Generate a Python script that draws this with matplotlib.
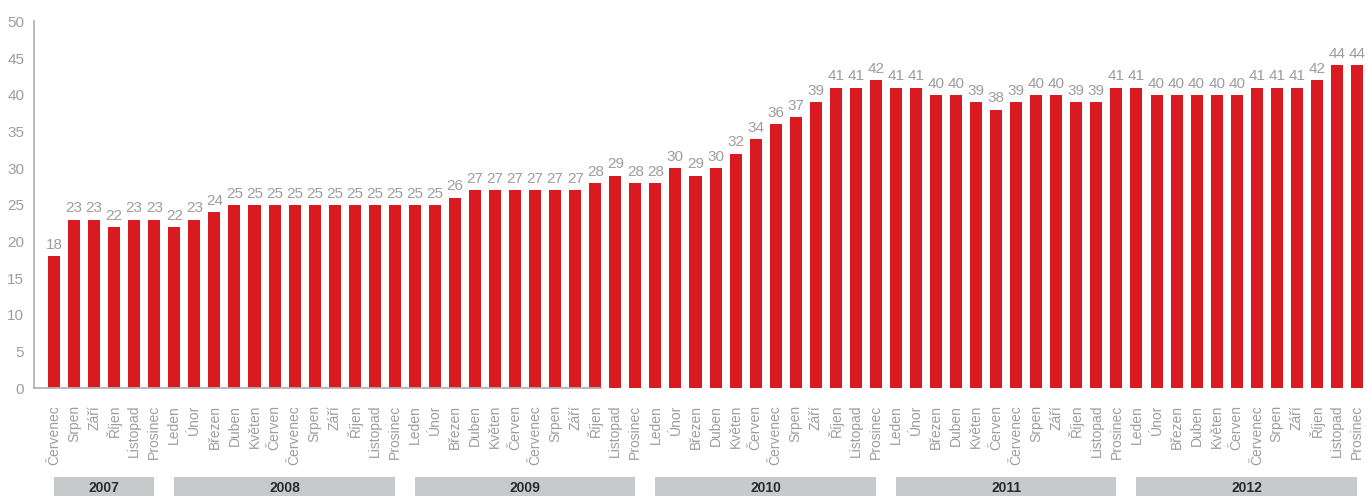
import matplotlib
matplotlib.use("Agg")
import matplotlib.pyplot as plt
from matplotlib.patches import Rectangle
from matplotlib.transforms import blended_transform_factory

# ---- data ----
month_names = ["Leden", "Únor", "Březen", "Duben", "Květen", "Červen",
               "Červenec", "Srpen", "Září", "Říjen", "Listopad", "Prosinec"]
years = ["2007", "2008", "2009", "2010", "2011", "2012"]
values_2007 = [18, 23, 23, 22, 23, 23]                      # Červenec–Prosinec
values_2008 = [22, 23, 24, 25, 25, 25, 25, 25, 25, 25, 25, 25]
values_2009 = [25, 25, 26, 27, 27, 27, 27, 27, 27, 28, 29, 28]
values_2010 = [28, 30, 29, 30, 32, 34, 36, 37, 39, 41, 41, 42]
values_2011 = [41, 41, 40, 40, 39, 38, 39, 40, 40, 39, 39, 41]
values_2012 = [41, 40, 40, 40, 40, 40, 41, 41, 41, 42, 44, 44]
yearly_values = [values_2007, values_2008, values_2009, values_2010, values_2011, values_2012]
y_ticks = [0, 5, 10, 15, 20, 25, 30, 35, 40, 45, 50]

values = []
labels = []
year_spans = []
for yr, vals in zip(years, yearly_values):
    start = len(values)
    months = month_names[12 - len(vals):]
    values.extend(vals)
    labels.extend(months)
    year_spans.append((yr, start, len(values) - 1))

# ---- style ----
RED = "#d91a21"
GRAY_TXT = "#9d9d9d"
AXIS_GRAY = "#b4b4b4"
BAND = "#c8c9cb"
BAR_W = 0.6

fig = plt.figure(figsize=(13.67, 4.96), dpi=100)
ax = fig.add_axes([34 / 1367, 0.2171, 1 - 34 / 1367, 0.9567 - 0.2171])
plt.rcParams["font.family"] = ["Liberation Sans", "DejaVu Sans"]

x = list(range(len(values)))
bars = ax.bar(x, values, width=BAR_W, color=RED, zorder=2)
ax.bar_label(bars, labels=[str(v) for v in values], padding=3,
             color=GRAY_TXT, fontsize=11, family="Liberation Sans")

ax.set_xlim(-1, len(values) - 0.5)
ax.set_ylim(0, 50)
ax.set_yticks(y_ticks)
ax.set_yticklabels([str(t) for t in y_ticks], family="Liberation Sans",
                   fontsize=11, color=GRAY_TXT)
ax.set_xticks(x)
ax.set_xticklabels(labels, rotation=90, family="Liberation Sans",
                   fontsize=10, color=GRAY_TXT)
ax.tick_params(axis="y", length=0, pad=7)
ax.tick_params(axis="x", length=0, pad=12)

for s in ["top", "right"]:
    ax.spines[s].set_visible(False)
ax.spines["left"].set_color(AXIS_GRAY)
ax.spines["left"].set_linewidth(1.3)
ax.spines["bottom"].set_color(AXIS_GRAY)
ax.spines["bottom"].set_linewidth(1.3)
# the baseline in the original stops after Říjen 2009
axis_end_idx = year_spans[2][1] + 9
ax.spines["bottom"].set_bounds(-1, axis_end_idx + BAR_W / 2)

# year bands below the month labels
trans = blended_transform_factory(ax.transData, fig.transFigure)
for yr, i0, i1 in year_spans:
    ax.add_patch(Rectangle((i0, 0), i1 - i0, 0.0383, transform=trans,
                           facecolor=BAND, edgecolor="none", clip_on=False))
    ax.text((i0 + i1) / 2, 0.017, yr, transform=trans, ha="center", va="center",
            fontsize=10, fontweight="bold", color="#2b2b2b",
            family="Liberation Sans", clip_on=False)

fig.savefig("out.png", dpi=100)
